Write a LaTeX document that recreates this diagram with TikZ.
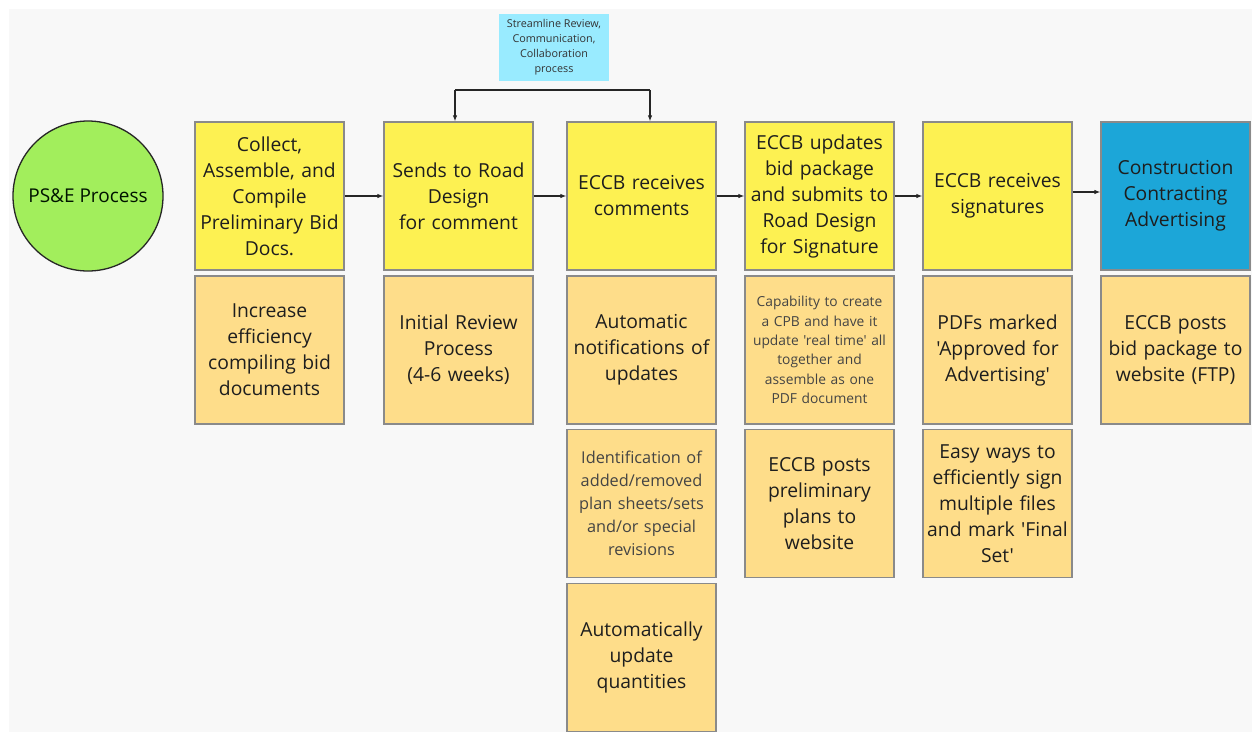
\documentclass[tikz,border=0pt]{standalone}
\usepackage{fontspec}
\setmainfont{Open Sans}[Ligatures=TeXOff]
\usetikzlibrary{arrows.meta}
\definecolor{bg}{HTML}{F8F8F8}
\definecolor{ylw}{HTML}{FDF152}
\definecolor{org}{HTML}{FEDD8A}
\definecolor{blu}{HTML}{1CA6D8}
\definecolor{lblu}{HTML}{99EBFF}
\definecolor{grn}{HTML}{A2EE5C}
\definecolor{edge}{HTML}{8A8A8A}
\definecolor{dtxt}{HTML}{1E1E1E}
\definecolor{gtxt}{HTML}{444444}
\tikzset{
  box/.style={draw=edge, line width=1.2pt, minimum width=149pt, minimum height=148pt, inner sep=0pt, align=center, text width=148pt},
  mainbox/.style={box, fill=ylw, font=\fontsize{19.3}{26}\selectfont, text=dtxt},
  subbox/.style={box, fill=org, font=\fontsize{19.3}{26}\selectfont, text=dtxt},
  smallbox/.style={box, fill=org, font=\fontsize{16.3}{23}\selectfont, text=gtxt},
  tinybox/.style={box, fill=org, font=\fontsize{13.8}{19.3}\selectfont, text=gtxt},
  conn/.style={-{Latex[length=6pt,width=4.5pt]}, line width=1.2pt, draw=black!85},
}
\begin{document}
\begin{tikzpicture}[x=1pt,y=-1pt]
\useasboundingbox (0,0) rectangle (1252,732);
\fill[white] (0,0) rectangle (1252,732);
\fill[bg] (9,9) rectangle (1252,732);
% start circle
\node[circle, draw=black!85, line width=1.3pt, fill=grn, minimum size=150pt, inner sep=0pt, font=\fontsize{19}{22}\selectfont, text=black!75!green!30!black] (start) at (88,196) {PS\&E Process};
\node[mainbox] (c1) at (269.5,196) {Collect,\\Assemble, and\\Compile\\Preliminary Bid\\Docs.};
\node[mainbox] (c2) at (458.5,196) {Sends to Road\\Design\\for comment};
\node[mainbox] (c3) at (641.5,196) {ECCB receives\\comments};
\node[mainbox] (c4) at (819.5,196) {ECCB updates\\bid package\\and submits to\\Road Design\\for Signature};
\node[mainbox] (c5) at (997.5,196) {ECCB receives\\signatures};
\node[mainbox, fill=blu] (c6) at (1175.5,196) {Construction\\Contracting\\Advertising};
% second row
\node[subbox] (r1) at (269.5,350) {Increase\\efficiency\\compiling bid\\documents};
\node[subbox] (r2) at (458.5,350) {Initial Review\\Process\\(4-6 weeks)};
\node[subbox] (r3) at (641.5,350) {Automatic\\notifications of\\updates};
\node[tinybox] (r4) at (819.5,350) {Capability to create\\a CPB and have it\\update 'real time' all\\together and\\assemble as one\\PDF document};
\node[subbox] (r5) at (997.5,350) {PDFs marked\\'Approved for\\Advertising'};
\node[subbox] (r6) at (1175.5,350) {ECCB posts\\bid package to\\website (FTP)};
% third row
\node[smallbox] (s3) at (641.5,503.5) {Identification of\\added/removed\\plan sheets/sets\\and/or special\\revisions};
\node[subbox] (s4) at (819.5,503.5) {ECCB posts\\preliminary\\plans to\\website};
\node[subbox] (s5) at (997.5,503.5) {Easy ways to\\efficiently sign\\multiple files\\and mark 'Final\\Set'};
% fourth row
\node[subbox] (t3) at (641.5,657.5) {Automatically\\update\\quantities};
% streamline note
\node[fill=lblu, minimum width=110pt, minimum height=67pt, inner sep=0pt, align=center, font=\fontsize{10.8}{15}\selectfont, text=black!80] (note) at (554,47.5) {Streamline Review,\\Communication,\\Collaboration\\process};
% connectors
\draw[conn] (c1.east) -- (c2.west);
\draw[conn] (c2.east) -- (c3.west);
\draw[conn] (c3.east) -- (c4.west);
\draw[conn] (c4.east) -- (c5.west);
\draw[conn] ([yshift=4pt]c5.east) -- ([yshift=4pt]c6.west);
\coordinate (brL) at (455,90);
\coordinate (brR) at (650,90);
\draw[line width=1.2pt, draw=black!85] (brL) -- (brR);
\draw[conn] (brL) -- (brL |- c2.north);
\draw[conn] (brR) -- (brR |- c3.north);
\end{tikzpicture}
\end{document}
